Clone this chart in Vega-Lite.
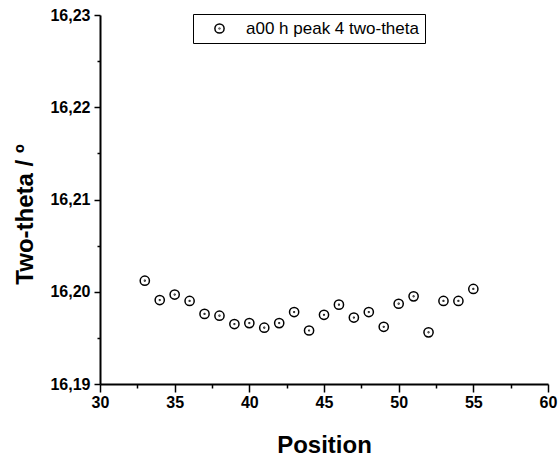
{
  "$schema": "https://vega.github.io/schema/vega-lite/v6.json",
  "width": 448,
  "height": 369,
  "autosize": {"type": "none"},
  "padding": {"left": 100, "top": 15, "right": 12, "bottom": 75},
  "background": "white",
  "config": {
    "view": {"stroke": null},
    "axis": {
      "domainColor": "black",
      "domainWidth": 2,
      "tickColor": "black",
      "tickWidth": 1.5,
      "labelFont": "Liberation Sans",
      "labelFontWeight": "bold",
      "labelFontSize": 16,
      "labelColor": "black",
      "titleFont": "Liberation Sans",
      "titleFontWeight": "bold",
      "titleColor": "black",
      "grid": false
    }
  },
  "data": {
    "values": [
      {"position": 33, "two_theta": 16.2012, "series": "a00 h peak 4 two-theta"},
      {"position": 34, "two_theta": 16.1991, "series": "a00 h peak 4 two-theta"},
      {"position": 35, "two_theta": 16.1997, "series": "a00 h peak 4 two-theta"},
      {"position": 36, "two_theta": 16.1990, "series": "a00 h peak 4 two-theta"},
      {"position": 37, "two_theta": 16.1976, "series": "a00 h peak 4 two-theta"},
      {"position": 38, "two_theta": 16.1974, "series": "a00 h peak 4 two-theta"},
      {"position": 39, "two_theta": 16.1965, "series": "a00 h peak 4 two-theta"},
      {"position": 40, "two_theta": 16.1966, "series": "a00 h peak 4 two-theta"},
      {"position": 41, "two_theta": 16.1961, "series": "a00 h peak 4 two-theta"},
      {"position": 42, "two_theta": 16.1966, "series": "a00 h peak 4 two-theta"},
      {"position": 43, "two_theta": 16.1978, "series": "a00 h peak 4 two-theta"},
      {"position": 44, "two_theta": 16.1958, "series": "a00 h peak 4 two-theta"},
      {"position": 45, "two_theta": 16.1975, "series": "a00 h peak 4 two-theta"},
      {"position": 46, "two_theta": 16.1986, "series": "a00 h peak 4 two-theta"},
      {"position": 47, "two_theta": 16.1972, "series": "a00 h peak 4 two-theta"},
      {"position": 48, "two_theta": 16.1978, "series": "a00 h peak 4 two-theta"},
      {"position": 49, "two_theta": 16.1962, "series": "a00 h peak 4 two-theta"},
      {"position": 50, "two_theta": 16.1987, "series": "a00 h peak 4 two-theta"},
      {"position": 51, "two_theta": 16.1995, "series": "a00 h peak 4 two-theta"},
      {"position": 52, "two_theta": 16.1956, "series": "a00 h peak 4 two-theta"},
      {"position": 53, "two_theta": 16.1990, "series": "a00 h peak 4 two-theta"},
      {"position": 54, "two_theta": 16.1990, "series": "a00 h peak 4 two-theta"},
      {"position": 55, "two_theta": 16.2003, "series": "a00 h peak 4 two-theta"}
    ]
  },
  "layer": [
    {
      "mark": {"type": "point", "filled": false, "color": "black", "strokeWidth": 1.5, "size": 85, "opacity": 1},
      "encoding": {
        "x": {
          "field": "position", "type": "quantitative",
          "scale": {"domain": [30, 60], "nice": false, "zero": false},
          "axis": {
            "orient": "bottom",
            "values": [30, 35, 40, 45, 50, 55, 60],
            "tickSize": 8,
            "labelPadding": 2,
            "labelFlush": false,
            "format": "d",
            "title": "Position",
            "titleFontSize": 24,
            "titleY": 68,
            "titleBaseline": "alphabetic"
          }
        },
        "y": {
          "field": "two_theta", "type": "quantitative",
          "scale": {"domain": [16.19, 16.23], "nice": false, "zero": false},
          "axis": {
            "orient": "left",
            "values": [16.19, 16.2, 16.21, 16.22, 16.23],
            "tickSize": 6,
            "labelPadding": 4,
            "labelFlush": false,
            "labelExpr": "replace(format(datum.value, '.2f'), '.', ',')",
            "title": "Two-theta / º",
            "titleFontSize": 24,
            "titleAngle": -90,
            "titleX": -68,
            "titleY": 199,
            "titleAlign": "center",
            "titleBaseline": "alphabetic"
          }
        },
        "shape": {
          "field": "series", "type": "nominal",
          "scale": {"range": ["M-1,0A1,1 0 1,0 1,0A1,1 0 1,0 -1,0ZM-0.08,0A0.08,0.08 0 1,0 0.08,0A0.08,0.08 0 1,0 -0.08,0Z"]},
          "legend": {
            "title": null,
            "orient": "none",
            "legendX": 93,
            "legendY": -1,
            "strokeColor": "black",
            "fillColor": "white",
            "padding": 6,
            "symbolOffset": 12,
            "labelOffset": 18,
            "labelFont": "Liberation Sans",
            "labelFontWeight": "normal",
            "labelFontSize": 17,
            "labelColor": "black",
            "labelLimit": 300,
            "symbolSize": 85,
            "symbolStrokeWidth": 1.5,
            "symbolStrokeColor": "black",
            "symbolFillColor": "transparent"
          }
        }
      }
    },
    {
      "mark": {"type": "point", "opacity": 0},
      "encoding": {
        "x": {
          "field": "position", "type": "quantitative",
          "axis": {
            "orient": "bottom",
            "values": [32.5, 37.5, 42.5, 47.5, 52.5, 57.5],
            "tickSize": 4,
            "labels": false,
            "domain": false,
            "title": null
          }
        },
        "y": {
          "field": "two_theta", "type": "quantitative",
          "axis": {
            "orient": "left",
            "values": [16.195, 16.205, 16.215, 16.225],
            "tickSize": 3,
            "labels": false,
            "domain": false,
            "title": null
          }
        }
      }
    }
  ],
  "resolve": {"axis": {"x": "independent", "y": "independent"}}
}
